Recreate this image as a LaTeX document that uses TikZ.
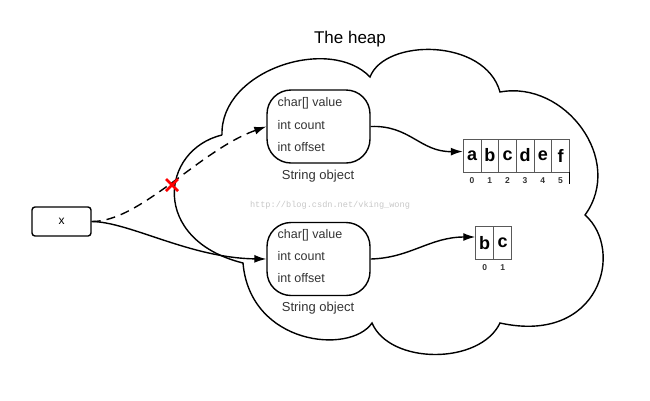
\documentclass[tikz,border=0pt]{standalone}
\usepackage{fontspec}
\setmainfont{Liberation Sans}
\newfontfamily\wmfont{Liberation Mono}
\usetikzlibrary{arrows.meta}
\begin{document}
\begin{tikzpicture}[x=1pt,y=-1pt,line width=1.4pt,
  obj/.style={draw, rounded corners=24pt, minimum width=103pt, minimum height=73pt, inner sep=0pt},
  fld/.style={anchor=base west, font=\fontsize{12.5}{14}\selectfont, text=black!80, inner sep=0pt},
  caplabel/.style={anchor=base, font=\fontsize{13}{15}\selectfont, text=black!80, inner sep=0pt},
  cell/.style={draw=black!65, line width=0.9pt, minimum width=17.7pt, minimum height=33pt, inner sep=0pt, font=\bfseries\fontsize{18}{20}\selectfont},
  idx/.style={anchor=base, font=\bfseries\fontsize{8.5}{10}\selectfont, text=black!80, inner sep=0pt},
  arr/.style={-{Latex[length=12pt,width=8pt]}}]
\useasboundingbox (0,0) rectangle (650,400);
% title
\node[anchor=base, font=\fontsize{17}{20}\selectfont, inner sep=0pt] (title) at (350,43) {The heap};
% cloud
\draw (222,135) .. controls (220,70) and (330,35) .. (370,77)
  .. controls (385,38) and (485,38) .. (500,92)
  .. controls (565,80) and (625,160) .. (585,215)
  .. controls (625,250) and (600,345) .. (500,323)
  .. controls (480,365) and (390,365) .. (372,323)
  .. controls (350,355) and (250,345) .. (243,263)
  .. controls (150,240) and (160,150) .. (222,135);
% watermark
\node[font=\wmfont\fontsize{8.6}{10}\selectfont, text=black!22] (wm) at (330,205) {http://blog.csdn.net/vking\_wong};
% x box
\node[draw, rounded corners=3pt, minimum width=59pt, minimum height=29pt, inner sep=0pt, font=\fontsize{12}{14}\selectfont] (x) at (61.5,221.5) {x};
% string objects
\node[obj] (s1) at (318.5,126.5) {};
\node[fld] (s1a) at (277,106.5) {char[] value};
\node[fld] (s1b) at (277,129) {int count};
\node[fld] (s1c) at (277,151.5) {int offset};
\node[caplabel] (s1l) at (318,179.5) {String object};
\node[obj] (s2) at (318.5,259) {};
\node[fld] (s2a) at (277,238.5) {char[] value};
\node[fld] (s2b) at (277,260.5) {int count};
\node[fld] (s2c) at (277,282.5) {int offset};
\node[caplabel] (s2l) at (318,311.5) {String object};
% top array
\node[cell] (a0) at (472.1,155.5) {a};
\node[cell] (a1) at (489.8,155.5) {b};
\node[cell] (a2) at (507.5,155.5) {c};
\node[cell] (a3) at (525.1,155.5) {d};
\node[cell] (a4) at (542.8,155.5) {e};
\node[cell] (a5) at (560.5,155.5) {f};
\node[idx] (i0) at (472.1,183.5) {0};
\node[idx] (i1) at (489.8,183.5) {1};
\node[idx] (i2) at (507.5,183.5) {2};
\node[idx] (i3) at (525.1,183.5) {3};
\node[idx] (i4) at (542.8,183.5) {4};
\node[idx] (i5) at (560.5,183.5) {5};
\coordinate (tk) at ([yshift=-12pt]a5.south east);
\draw[line width=1pt] (a5.south east) -- (tk);
% bottom array
\node[cell, minimum width=18pt, minimum height=32.6pt] (b0) at (484.7,243) {b};
\node[cell, minimum width=18pt, minimum height=32.6pt] (b1) at (502.7,243) {c};
\node[idx] (j0) at (484.7,270) {0};
\node[idx] (j1) at (502.7,270) {1};
% connectors
\draw[arr] (s1.east) .. controls (410,125) and (420,152) .. ([yshift=4pt]a0.west);
\draw[arr] (s2.east) .. controls (410,258) and (430,237) .. ([yshift=6pt]b0.west);
\draw[arr] (x.east) .. controls (130,222) and (190,258) .. (s2.west);
\draw[arr, dash pattern=on 9pt off 6pt] (x.east) .. controls (140,222) and (200,150) .. (s1.west);
% red cross
\coordinate (rx) at (172,185);
\draw[red, line width=2.5pt] ([shift={(-6pt,-6pt)}]rx) -- ([shift={(6pt,6pt)}]rx);
\draw[red, line width=2.5pt] ([shift={(-6pt,6pt)}]rx) -- ([shift={(6pt,-6pt)}]rx);
\end{tikzpicture}
\end{document}
